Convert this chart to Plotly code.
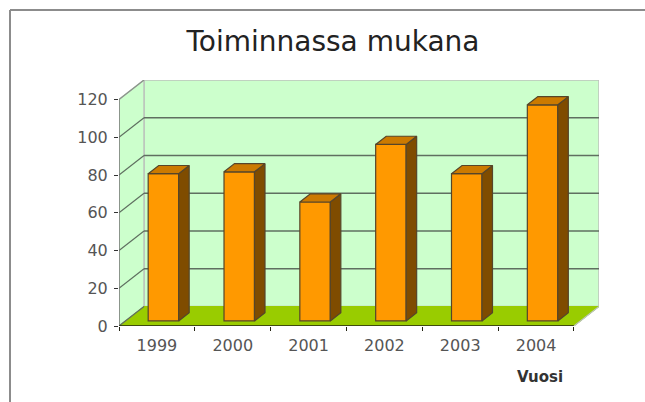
import plotly.graph_objects as go

# Data
years = ["1999", "2000", "2001", "2002", "2003", "2004"]
values = [78, 79, 63, 93.5, 78, 114.5]
y_ticks = [0, 20, 40, 60, 80, 100, 120]
title_text = "Toiminnassa mukana"
x_axis_title = "Vuosi"

# Oblique view parameters (depth of the box, in axis units)
W, H = 645, 402
ML, MR, MT, MB = 119, 46, 80, 76
DX = 0.33
DY = 10.33
BAR_W = 0.402
D_FRONT = 0.26
D_BACK = 0.68

n = len(years)
x0, x1 = -0.5, n - 0.5
ymax = y_ticks[-1]

WALL = "#ccffcc"
FLOOR = "#99cc00"
BAR = "#ff9900"
SIDE = "#7f4c00"
TOP = "#cc7a00"
EDGE = "#55452a"
GRID = "#5f6f60"
WALL_EDGE = "#bcc4bc"


def poly(pts):
    return "M " + " L ".join(f"{a},{b}" for a, b in pts) + " Z"


def px_x(p):
    return (p - ML) / (W - ML - MR)


def px_y(p):
    return 1 - (p - MT) / (H - MT - MB)


shapes = []
# Walls and floor
shapes.append(dict(type="path", xref="x", yref="y", layer="below", fillcolor=WALL,
                   line=dict(color=WALL_EDGE, width=1.5),
                   path=poly([(x0 + DX, DY), (x1 + DX, DY), (x1 + DX, ymax + DY), (x0 + DX, ymax + DY)])))
shapes.append(dict(type="path", xref="x", yref="y", layer="below", fillcolor=WALL,
                   line=dict(color=WALL_EDGE, width=1.5),
                   path=poly([(x0, 0), (x0 + DX, DY), (x0 + DX, ymax + DY), (x0, ymax)])))
shapes.append(dict(type="path", xref="x", yref="y", layer="below", fillcolor=FLOOR,
                   line=dict(color=FLOOR, width=1),
                   path=poly([(x0, 0), (x1, 0), (x1 + DX, DY), (x0 + DX, DY)])))
# Gridlines on the walls
for v in y_ticks:
    col = WALL_EDGE if v == ymax else GRID
    if 0 < v < ymax:
        shapes.append(dict(type="line", xref="x", yref="y", layer="below",
                           x0=x0 + DX, x1=x1 + DX, y0=v + DY, y1=v + DY,
                           line=dict(color=col, width=1.5)))
    shapes.append(dict(type="line", xref="x", yref="y", layer="below",
                       x0=x0, x1=x0 + DX, y0=v, y1=v + DY,
                       line=dict(color="#8a948a" if v == ymax else GRID, width=1.2)))
# Axis lines
shapes.append(dict(type="line", xref="x", yref="y", layer="above", x0=x0, x1=x0, y0=0, y1=ymax,
                   line=dict(color="#6f756f", width=1.3)))
shapes.append(dict(type="line", xref="x", yref="y", layer="above", x0=x0, x1=x1, y0=0, y1=0,
                   line=dict(color="#222211", width=1.5)))
shapes.append(dict(type="line", xref="x", yref="y", layer="above", x0=x1, x1=x1 + DX, y0=0, y1=DY,
                   line=dict(color=WALL_EDGE, width=1.2)))
# Page frame
shapes.append(dict(type="line", xref="paper", yref="paper", x0=px_x(10), x1=px_x(645), y0=px_y(10), y1=px_y(10),
                   line=dict(color="#8c8c8c", width=2)))
shapes.append(dict(type="line", xref="paper", yref="paper", x0=px_x(10), x1=px_x(10), y0=px_y(10), y1=px_y(402),
                   line=dict(color="#8c8c8c", width=2)))

fig = go.Figure()

# Front faces
cats = list(range(n))
front_x = [c + D_FRONT * DX for c in cats]
fig.add_trace(go.Bar(x=front_x, y=values, base=[D_FRONT * DY] * n, width=[BAR_W] * n,
                     marker=dict(color=BAR, line=dict(color=EDGE, width=1.2)),
                     hoverinfo="skip", showlegend=False))

# Side and top faces
for c, v in zip(cats, values):
    xl = c - BAR_W / 2
    xr = c + BAR_W / 2
    bf, bb = D_FRONT, D_BACK
    base_f, base_b = bf * DY, bb * DY
    sx = [xr + bf * DX, xr + bb * DX, xr + bb * DX, xr + bf * DX, xr + bf * DX]
    sy = [base_f, base_b, v + base_b, v + base_f, base_f]
    fig.add_trace(go.Scatter(x=sx, y=sy, mode="lines", fill="toself", fillcolor=SIDE,
                             line=dict(color=EDGE, width=1.2), hoverinfo="skip", showlegend=False))
    tx = [xl + bf * DX, xr + bf * DX, xr + bb * DX, xl + bb * DX, xl + bf * DX]
    ty = [v + base_f, v + base_f, v + base_b, v + base_b, v + base_f]
    fig.add_trace(go.Scatter(x=tx, y=ty, mode="lines", fill="toself", fillcolor=TOP,
                             line=dict(color=EDGE, width=1.2), hoverinfo="skip", showlegend=False))

fig.update_layout(
    width=W, height=H, autosize=False,
    margin=dict(l=ML, r=MR, t=MT, b=MB, pad=0),
    paper_bgcolor="white", plot_bgcolor="white",
    showlegend=False, shapes=shapes,
    font=dict(family="DejaVu Sans", color="#555555"),
    title=dict(text=title_text, x=333 / W, xanchor="center", y=1 - 41 / H, yanchor="middle",
               font=dict(family="DejaVu Sans", size=28, color="#222222")),
    xaxis=dict(range=[x0, x1 + DX], tickmode="array", tickvals=cats, ticktext=years,
               ticks="", showgrid=False, zeroline=False, showline=False,
               tickfont=dict(size=16, color="#555555"), ticklabelstandoff=8,
               minor=dict(tickmode="array", tickvals=[x0 + i for i in range(n + 1)],
                          ticks="outside", ticklen=4, tickcolor="#222211", tickwidth=1.2, showgrid=False)),
    yaxis=dict(range=[0, ymax + DY], tickmode="array", tickvals=y_ticks,
               ticks="outside", ticklen=4, tickcolor="#333333", tickwidth=1.3,
               ticklabelstandoff=3,
               showgrid=False, zeroline=False, showline=False,
               tickfont=dict(size=16, color="#555555")),
    annotations=[dict(text=f"<b>{x_axis_title}</b>", xref="paper", yref="paper",
                      x=px_x(540), y=px_y(377), xanchor="center", yanchor="middle", showarrow=False,
                      font=dict(family="DejaVu Sans", size=15, color="#333333"))],
)

fig.write_html("out.html", config={"displayModeBar": False},
               post_script="document.body.style.margin='0';document.body.style.overflow='hidden';")
